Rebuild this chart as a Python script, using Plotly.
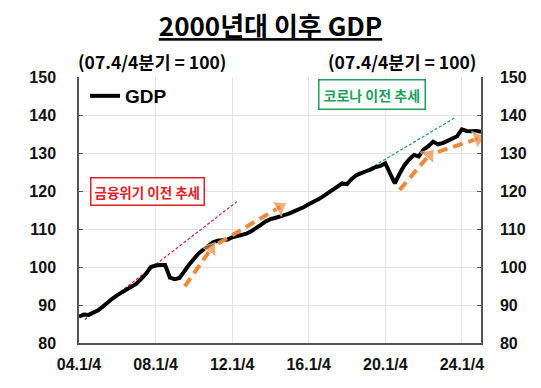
import plotly.graph_objects as go

# ---- data (index, 2007Q4 = 100), quarterly from 2004 Q1 ----
gdp = [86.9, 87.5, 87.4, 87.9, 88.6, 89.6, 90.8, 91.7, 92.6, 93.3,
       94.1, 95.0, 95.6, 96.9, 98.2, 100.0, 100.4, 100.5, 100.5, 97.2,
       96.8, 97.1, 99.0, 100.6, 102.1, 103.6, 104.6, 105.4, 106.5, 106.9,
       107.0, 107.2, 107.8, 108.1, 108.4, 108.8, 109.4, 110.1, 111.1, 112.0,
       112.6, 112.9, 113.2, 113.7, 114.1, 114.6, 115.2, 115.8, 116.5, 117.1,
       117.8, 118.6, 119.4, 120.3, 121.3, 122.0, 121.8, 123.2, 124.2, 124.8,
       125.2, 125.7, 126.3, 126.6, 127.3, 124.6, 122.0, 124.6, 126.8, 128.3,
       129.5, 129.1, 130.9, 131.8, 133.0, 132.3, 132.6, 133.2, 133.8, 134.4,
       136.2, 135.8, 135.7, 135.8, 135.6]
quarter_idx = list(range(len(gdp)))

tick_pos = [0, 16, 32, 48, 64, 80]
tick_text = ["04.1/4", "08.1/4", "12.1/4", "16.1/4", "20.1/4", "24.1/4"]
y_ticks = [80, 90, 100, 110, 120, 130, 140, 150]

# trend lines (quarter index, value)
gfc_trend_x = [1.2, 33.0]
gfc_trend_y = [86.2, 117.2]
covid_trend_x = [46.5, 78.7]
covid_trend_y = [115.2, 139.4]

# recovery arrows (start -> end)
arrows = [
    ([22.1, 27.6], [94.9, 104.8]),
    ([29.1, 42.0], [106.2, 115.8]),
    ([67.0, 73.2], [120.3, 129.5]),
    ([75.0, 83.4], [130.3, 133.8]),
]

RED = "#e0202a"
GREEN = "#1f9e5c"
ORANGE = "#f0883c"
AXIS = "#555555"
GRID = "#e4e4e4"
NUM_FONT = "Liberation Sans, Arial, Noto Sans CJK KR"
KR_FONT = "Noto Sans CJK KR, Liberation Sans"

fig = go.Figure()

fig.add_trace(go.Scatter(x=gfc_trend_x, y=gfc_trend_y, mode="lines",
                         line=dict(color="#d2233f", width=1.2, dash="3px,2px"),
                         showlegend=False, hoverinfo="skip"))
fig.add_trace(go.Scatter(x=covid_trend_x, y=covid_trend_y, mode="lines",
                         line=dict(color=GREEN, width=1.2, dash="3px,2px"),
                         showlegend=False, hoverinfo="skip"))

fig.add_trace(go.Scatter(x=quarter_idx, y=gdp, mode="lines", name="GDP",
                         line=dict(color="black", width=4)))

for ax, ay in arrows:
    fig.add_trace(go.Scatter(x=ax, y=ay, mode="lines+markers",
                             line=dict(color=ORANGE, width=4, dash="10px,6px"),
                             marker=dict(symbol="triangle-up", size=[0, 15],
                                         color=ORANGE, angleref="previous"),
                             showlegend=False, hoverinfo="skip"))

# invisible trace on the right axis
fig.add_trace(go.Scatter(x=quarter_idx, y=gdp, yaxis="y2", mode="lines",
                         line=dict(color="rgba(0,0,0,0)"), showlegend=False,
                         hoverinfo="skip"))

fig.update_layout(
    width=541, height=388,
    margin=dict(l=79, r=60, t=77, b=45),
    paper_bgcolor="white", plot_bgcolor="white",
    title=dict(text="<b><u>2000년대 이후 GDP</u></b>", x=0.5, xanchor="center",
               y=1 - 27 / 388, yanchor="middle", yref="container",
               font=dict(family=KR_FONT, size=26, color="black")),
    xaxis=dict(range=[0, 84], tickvals=tick_pos, ticktext=tick_text,
               showgrid=True, gridcolor=GRID, gridwidth=1, automargin=False,
               showline=True, linecolor=AXIS, linewidth=1.5,
               ticks="", ticklabelstandoff=6, zeroline=False,
               tickfont=dict(family=NUM_FONT, size=16, color="#111", weight="bold")),
    yaxis=dict(range=[80, 150], tickvals=y_ticks, showgrid=True, gridcolor=GRID,
               showline=True, linecolor=AXIS, linewidth=1.5, zeroline=False,
               automargin=False,
               ticks="inside", ticklen=4, tickcolor=AXIS, ticklabelstandoff=18,
               tickfont=dict(family=NUM_FONT, size=16, color="#111", weight="bold")),
    yaxis2=dict(range=[80, 150], tickvals=y_ticks, overlaying="y", side="right",
                showgrid=False, showline=True, linecolor=AXIS, linewidth=1.5,
                zeroline=False, ticks="inside", ticklen=4, tickcolor=AXIS,
                automargin=False, ticklabelstandoff=14,
                tickfont=dict(family=NUM_FONT, size=16, color="#111", weight="bold")),
    legend=dict(x=0.015, y=1.0, xanchor="left", yanchor="top",
                bgcolor="rgba(0,0,0,0)", itemwidth=30,
                font=dict(family=NUM_FONT, size=19, color="black", weight="bold")),
    showlegend=True,
)

fig.add_annotation(text="<b>(07.4/4분기 = 100)</b>", xref="paper", yref="paper",
                   x=-0.008, y=1.0, xanchor="left", yanchor="bottom", yshift=1, showarrow=False,
                   font=dict(family=KR_FONT, size=17.5, color="black"))
fig.add_annotation(text="<b>(07.4/4분기 = 100)</b>", xref="paper", yref="paper",
                   x=0.993, y=1.0, xanchor="right", yanchor="bottom", yshift=1, showarrow=False,
                   font=dict(family=KR_FONT, size=17.5, color="black"))

fig.add_annotation(text="<b>금융위기 이전 추세</b>", x=14.4, y=120.0, showarrow=False,
                   font=dict(family=KR_FONT, size=13.5, color=RED),
                   bordercolor=RED, borderwidth=1.5, borderpad=3, bgcolor="white")
fig.add_annotation(text="<b>코로나 이전 추세</b>", x=61.3, y=145.4, showarrow=False,
                   font=dict(family=KR_FONT, size=14, color=GREEN),
                   bordercolor=GREEN, borderwidth=1.5, borderpad=4, bgcolor="white")

fig.write_html("out.html", config={"displayModeBar": False},
               post_script="document.body.style.margin='0';")
